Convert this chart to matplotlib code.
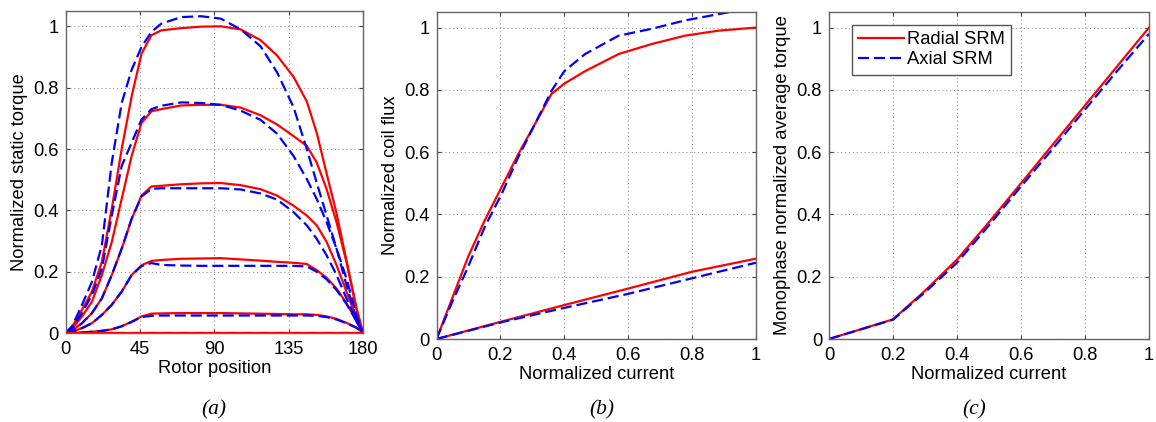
import matplotlib

matplotlib.use("Agg")
import matplotlib.pyplot as plt

# (a) static torque vs rotor position, one curve pair per current level (highest first)
pos_deg = [0, 4, 10, 16, 22, 28, 34, 40, 46, 52, 58, 70, 82, 94, 106, 118, 128, 138, 146, 152, 158, 164, 170, 176, 180]

radial_torque = [
    [0, .02, .076, .135, .232, .405, .60, .771, .911, .971, .987, .994, .999, 1.0, .99, .955, .905, .835, .755, .653, .52, .39, .236, .081, 0],
    [0, .014, .054, .102, .189, .297, .437, .577, .685, .723, .73, .742, .744, .744, .735, .71, .68, .642, .61, .556, .469, .361, .232, .081, 0],
    [0, .008, .032, .065, .113, .189, .275, .372, .448, .478, .48, .485, .488, .489, .482, .469, .448, .415, .383, .351, .297, .221, .135, .049, 0],
    [0, .004, .016, .032, .059, .092, .135, .189, .221, .235, .238, .242, .243, .244, .24, .236, .232, .229, .225, .205, .18, .145, .097, .04, 0],
    [0, 0, .002, .004, .007, .012, .022, .037, .054, .063, .064, .065, .065, .065, .064, .063, .062, .061, .061, .059, .054, .046, .033, .018, 0],
    [0] * 25,
]
axial_torque = [
    [0, .022, .092, .167, .286, .556, .75, .858, .933, .982, 1.009, 1.03, 1.033, 1.025, .99, .935, .85, .736, .60, .49, .383, .275, .156, .049, 0],
    [0, .016, .065, .124, .21, .383, .545, .62, .696, .73, .741, .752, .75, .744, .725, .695, .65, .577, .502, .437, .361, .275, .178, .059, 0],
    [0, .008, .032, .065, .113, .189, .275, .372, .445, .47, .472, .472, .472, .472, .468, .455, .435, .394, .351, .307, .253, .189, .113, .038, 0],
    [0, .004, .016, .032, .059, .092, .135, .189, .218, .228, .222, .22, .219, .219, .219, .219, .219, .219, .217, .20, .175, .14, .095, .04, 0],
    [0, 0, .002, .004, .007, .012, .022, .036, .052, .056, .057, .057, .057, .057, .057, .057, .057, .057, .057, .056, .052, .044, .032, .017, 0],
    [0] * 25,
]

# (b) coil flux vs current, aligned (upper) and unaligned (lower)
flux_current = [0, 0.047, 0.099, 0.151, 0.204, 0.256, 0.308, 0.36, 0.40, 0.465, 0.57, 0.673, 0.778, 0.882, 1.0]
radial_flux_aligned = [0, 0.125, 0.264, 0.381, 0.488, 0.594, 0.69, 0.787, 0.82, 0.86, 0.915, 0.947, 0.974, 0.99, 1.0]
axial_flux_aligned = [0, 0.114, 0.232, 0.36, 0.466, 0.584, 0.69, 0.797, 0.86, 0.915, 0.974, 0.996, 1.023, 1.043, 1.065]

unaligned_current = [0, 0.2, 0.4, 0.6, 0.8, 1.0]
radial_flux_unaligned = [0, 0.055, 0.109, 0.162, 0.216, 0.258]
axial_flux_unaligned = [0, 0.053, 0.1, 0.145, 0.195, 0.245]

# (c) monophase average torque vs current
avg_current = [0, 0.2, 0.3, 0.4, 0.5, 0.6, 0.7, 0.8, 0.9, 1.0]
radial_avg_torque = [0, 0.063, 0.155, 0.255, 0.375, 0.5, 0.625, 0.75, 0.875, 1.0]
axial_avg_torque = [0, 0.062, 0.15, 0.245, 0.365, 0.49, 0.612, 0.737, 0.86, 0.98]

plt.rcParams["font.family"] = ["Liberation Sans", "DejaVu Sans"]

RED = "#ff0000"
BLUE = "#0000ff"
LW = 1.6
DASH = (0, (5, 2.2))
FS = 13.2


def style_axes(ax, xticks, xlabels):
    ax.set_xticks(xticks)
    ax.set_xticklabels(xlabels)
    ax.set_yticks([0, 0.2, 0.4, 0.6, 0.8, 1])
    ax.set_yticklabels(["0", "0.2", "0.4", "0.6", "0.8", "1"])
    ax.set_ylim(0, 1.05)
    ax.tick_params(direction="in", top=True, right=True, length=3, labelsize=FS, color="#444444")
    ax.tick_params(axis="y", pad=5)
    ax.tick_params(axis="x", pad=6)
    ax.grid(True, linestyle=(0, (1, 2.5)), color="#999999", linewidth=0.8)
    for sp in ax.spines.values():
        sp.set_color("#666666")
        sp.set_linewidth(1.0)


fig = plt.figure(figsize=(11.56, 4.22), dpi=100)

ax_a = fig.add_axes([65.5 / 1156, (422 - 333) / 422, 297.5 / 1156, 322 / 422])
ax_b = fig.add_axes([436.5 / 1156, (422 - 339) / 422, 319.5 / 1156, 327 / 422])
ax_c = fig.add_axes([829 / 1156, (422 - 339) / 422, 320 / 1156, 327 / 422])

for rad, axi in zip(radial_torque, axial_torque):
    zero_level = max(rad) == 0
    ax_a.plot(pos_deg, axi, color=BLUE, lw=LW, linestyle=DASH, zorder=2.5 if zero_level else 2.2)
    ax_a.plot(pos_deg, rad, color=RED, lw=LW, zorder=2.6 if zero_level else 2.1)
ax_a.set_xlim(0, 180)
style_axes(ax_a, [0, 45, 90, 135, 180], ["0", "45", "90", "135", "180"])
ax_a.set_xlabel("Rotor position", fontsize=FS, labelpad=1)
ax_a.set_ylabel("Normalized static torque", fontsize=FS, labelpad=4)

ax_b.plot(flux_current, radial_flux_aligned, color=RED, lw=LW)
ax_b.plot(flux_current, axial_flux_aligned, color=BLUE, lw=LW, linestyle=DASH)
ax_b.plot(unaligned_current, radial_flux_unaligned, color=RED, lw=LW)
ax_b.plot(unaligned_current, axial_flux_unaligned, color=BLUE, lw=LW, linestyle=DASH)
ax_b.set_xlim(0, 1)
cur_ticks = [0, 0.2, 0.4, 0.6, 0.8, 1]
cur_labels = ["0", "0.2", "0.4", "0.6", "0.8", "1"]
style_axes(ax_b, cur_ticks, cur_labels)
ax_b.set_xlabel("Normalized current", fontsize=FS, labelpad=1)
ax_b.set_ylabel("Normalized coil flux", fontsize=FS, labelpad=4)

ax_c.plot(avg_current, radial_avg_torque, color=RED, lw=LW, label="Radial SRM")
ax_c.plot(avg_current, axial_avg_torque, color=BLUE, lw=LW, linestyle=DASH, label="Axial SRM")
ax_c.set_xlim(0, 1)
style_axes(ax_c, cur_ticks, cur_labels)
ax_c.set_xlabel("Normalized current", fontsize=FS, labelpad=1)
ax_c.set_ylabel("Monophase normalized average torque", fontsize=FS, labelpad=4)
leg = ax_c.legend(loc="upper left", bbox_to_anchor=(0.072, 0.96), borderaxespad=0, fontsize=FS,
                  fancybox=False, framealpha=1, edgecolor="#555555", handlelength=2.5, borderpad=0.35,
                  labelspacing=0.15, handletextpad=0.15)
leg.get_frame().set_linewidth(1.0)

for x, lab in [(214, "(a)"), (602, "(b)"), (974, "(c)")]:
    fig.text(x / 1156, 1 - 410 / 422, lab, ha="center", va="center", fontsize=15.5,
             family="Liberation Serif", style="italic")

fig.savefig("out.png", dpi=100)
